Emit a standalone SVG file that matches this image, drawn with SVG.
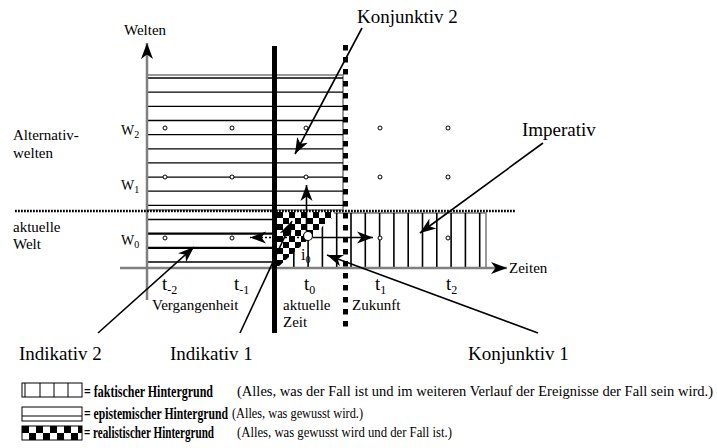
<svg xmlns="http://www.w3.org/2000/svg" width="717" height="448" viewBox="0 0 717 448" font-family="'Liberation Serif', 'Times New Roman', 'DejaVu Serif', serif">
<style>
text{font-family:'Liberation Serif','Times New Roman','DejaVu Serif',serif;fill:#000}
.lbl{font-size:15px}
.big{font-size:19px}
.w{font-size:14px}
.sub{font-size:10px}
.tsub{font-size:12px}
.t{font-size:19px}
.bold{font-size:12.5px;font-weight:bold}
.desc{font-size:13px}
.hl{stroke:#000;stroke-width:1.3}
.hlt{stroke:#000;stroke-width:2.2}
.vl{stroke:#000;stroke-width:1.6}
.gray{stroke:#808080;stroke-width:1.6;fill:none}
.axis{stroke:#808080;stroke-width:2.5;fill:none}
.arr{stroke:#000;stroke-width:1.6;fill:none;marker-end:url(#ah)}
.dot{fill:#fff;stroke:#000;stroke-width:1}
</style>
<defs>
<marker id="ah" markerUnits="userSpaceOnUse" markerWidth="17" markerHeight="13" viewBox="0 0 17 13" refX="16" refY="6.5" orient="auto">
<path d="M0,0.5 L16,6.5 L0,12.5 L4.5,6.5 z" fill="#000"/>
</marker>
<pattern id="chk" patternUnits="userSpaceOnUse" x="277" y="212" width="12" height="12">
<rect width="12" height="12" fill="#fff"/>
<rect width="6" height="6" fill="#000"/>
<rect x="6" y="6" width="6" height="6" fill="#000"/>
</pattern>
<pattern id="chkL" patternUnits="userSpaceOnUse" x="22" y="426" width="14" height="14">
<rect width="14" height="14" fill="#fff"/>
<rect width="7" height="7" fill="#000"/>
<rect x="7" y="7" width="7" height="7" fill="#000"/>
</pattern>
<clipPath id="realClip"><polygon points="277,212 334,212 334,216 277,268"/></clipPath>
</defs>

<g id="epistemic-background">
<rect x="147" y="75" width="196" height="135" fill="#fff" class="gray"/>
<line class="hl" x1="148" y1="78" x2="343" y2="78"/>
<line class="hl" x1="148" y1="92.2" x2="343" y2="92.2"/>
<line class="hl" x1="148" y1="106.3" x2="343" y2="106.3"/>
<line class="hl" x1="148" y1="120.5" x2="343" y2="120.5"/>
<line class="hl" x1="148" y1="134.6" x2="343" y2="134.6"/>
<line class="hl" x1="148" y1="148.8" x2="343" y2="148.8"/>
<line class="hl" x1="148" y1="162.9" x2="343" y2="162.9"/>
<line class="hl" x1="148" y1="177.1" x2="343" y2="177.1"/>
<line class="hl" x1="148" y1="191.2" x2="343" y2="191.2"/>
<line class="hl" x1="148" y1="205.4" x2="343" y2="205.4"/>
<line class="hl" x1="148" y1="219.5" x2="273" y2="219.5"/>
<line class="hlt" x1="148" y1="233.7" x2="273" y2="233.7"/>
<line class="hlt" x1="148" y1="247.8" x2="273" y2="247.8"/>
<line class="hl" x1="148" y1="262" x2="273" y2="262"/>
</g>

<g id="factual-background">
<rect x="277" y="213" width="209" height="55" fill="#fff" class="gray"/>
<line class="vl" x1="293.8" y1="213" x2="293.8" y2="268"/>
<line class="vl" x1="308.1" y1="213" x2="308.1" y2="268"/>
<line class="vl" x1="322.4" y1="213" x2="322.4" y2="268"/>
<line class="vl" x1="336.7" y1="213" x2="336.7" y2="268"/>
<line class="vl" x1="351" y1="213" x2="351" y2="268"/>
<line class="vl" x1="365.3" y1="213" x2="365.3" y2="268"/>
<line class="vl" x1="379.6" y1="213" x2="379.6" y2="268"/>
<line class="vl" x1="393.9" y1="213" x2="393.9" y2="268"/>
<line class="vl" x1="408.2" y1="213" x2="408.2" y2="268"/>
<line class="vl" x1="422.5" y1="213" x2="422.5" y2="268"/>
<line class="vl" x1="436.8" y1="213" x2="436.8" y2="268"/>
<line class="vl" x1="451.1" y1="213" x2="451.1" y2="268"/>
<line class="vl" x1="465.4" y1="213" x2="465.4" y2="268"/>
<line class="vl" x1="479.7" y1="213" x2="479.7" y2="268"/>
</g>

<g id="realistic-background">
<rect x="277" y="212" width="60" height="56" fill="url(#chk)" clip-path="url(#realClip)"/>
</g>

<g id="axes">
<line class="axis" x1="147" y1="300" x2="147" y2="43" marker-end="url(#ah)"/>
<line class="axis" x1="120" y1="268" x2="507" y2="268" marker-end="url(#ah)"/>
<text class="lbl" x="124" y="35">Welten</text>
<text class="lbl" x="509" y="273">Zeiten</text>
</g>

<g id="boundaries">
<line x1="15" y1="211" x2="515" y2="211" stroke="#000" stroke-width="2.5" stroke-dasharray="1.8 1.2"/>
<line x1="274.5" y1="46" x2="274.5" y2="333" stroke="#000" stroke-width="5"/>
<line x1="345.5" y1="45" x2="345.5" y2="333" stroke="#000" stroke-width="5" stroke-dasharray="5.5 6.5"/>
</g>

<g id="world-points">
<circle class="dot" cx="165" cy="128" r="2"/>
<circle class="dot" cx="232" cy="128" r="2"/>
<circle class="dot" cx="306" cy="128" r="2"/>
<circle class="dot" cx="380" cy="128" r="2"/>
<circle class="dot" cx="448" cy="128" r="2"/>
<circle class="dot" cx="165" cy="177" r="2"/>
<circle class="dot" cx="232" cy="177" r="2"/>
<circle class="dot" cx="306" cy="177" r="2"/>
<circle class="dot" cx="380" cy="177" r="2"/>
<circle class="dot" cx="448" cy="177" r="2"/>
<circle class="dot" cx="165" cy="238" r="2"/>
<circle class="dot" cx="232" cy="238" r="2"/>
<circle class="dot" cx="380" cy="238" r="2"/>
<circle class="dot" cx="448" cy="238" r="2"/>
</g>

<g id="connectors">
<line class="arr" x1="306.5" y1="231" x2="306.5" y2="185"/>
<line class="arr" x1="313" y1="237.5" x2="373" y2="237.5"/>
<line class="arr" x1="303" y1="237.5" x2="250" y2="237.5" stroke-dasharray="2 2"/>
<line class="arr" x1="362" y1="28" x2="295" y2="154"/>
<line class="arr" x1="543" y1="143" x2="420" y2="233"/>
<line class="arr" x1="98" y1="333" x2="194" y2="247"/>
<line class="arr" x1="240" y1="333" x2="292" y2="221"/>
<line class="arr" x1="538" y1="333" x2="327" y2="255"/>
</g>

<g id="now-point">
<circle cx="308" cy="236" r="4.5" fill="#fff" stroke="#000" stroke-width="1.2"/>
<text x="301" y="260" style="font-size:16px">i<tspan class="sub" dy="3">0</tspan></text>
</g>

<g id="world-labels">
<text class="lbl" x="13" y="140">Alternativ-</text>
<text class="lbl" x="13" y="158">welten</text>
<text class="lbl" x="13" y="232">aktuelle</text>
<text class="lbl" x="13" y="249">Welt</text>
<text class="w" x="121" y="135">W<tspan class="sub" dy="3">2</tspan></text>
<text class="w" x="121" y="190">W<tspan class="sub" dy="3">1</tspan></text>
<text class="w" x="121" y="245">W<tspan class="sub" dy="3">0</tspan></text>
</g>

<g id="time-labels">
<text class="t" x="162" y="290">t<tspan class="tsub" dy="4">-2</tspan></text>
<text class="t" x="234" y="290">t<tspan class="tsub" dy="4">-1</tspan></text>
<text class="t" x="304" y="290">t<tspan class="tsub" dy="4">0</tspan></text>
<text class="t" x="375" y="290">t<tspan class="tsub" dy="4">1</tspan></text>
<text class="t" x="446" y="290">t<tspan class="tsub" dy="4">2</tspan></text>
<text class="lbl" x="152" y="310">Vergangenheit</text>
<text class="lbl" x="283" y="310">aktuelle</text>
<text class="lbl" x="283" y="327">Zeit</text>
<text class="lbl" x="352" y="310">Zukunft</text>
</g>

<g id="mood-labels">
<text class="big" x="357" y="23">Konjunktiv 2</text>
<text class="big" x="522" y="136">Imperativ</text>
<text class="big" x="19" y="360">Indikativ 2</text>
<text class="big" x="170" y="360">Indikativ 1</text>
<text class="big" x="468" y="360">Konjunktiv 1</text>
</g>

<g id="legend">
<rect x="22" y="383" width="60" height="14" fill="#fff" stroke="#000" stroke-width="1"/>
<line x1="25" y1="383" x2="25" y2="397" stroke="#000" stroke-width="1"/>
<line x1="40" y1="383" x2="40" y2="397" stroke="#000" stroke-width="1"/>
<line x1="54" y1="383" x2="54" y2="397" stroke="#000" stroke-width="1"/>
<line x1="68" y1="383" x2="68" y2="397" stroke="#000" stroke-width="1"/>
<rect x="22" y="407" width="60" height="14" fill="#fff" stroke="#000" stroke-width="1"/>
<line x1="22" y1="416" x2="82" y2="416" stroke="#000" stroke-width="1"/>
<rect x="22" y="426" width="60" height="14" fill="url(#chkL)" stroke="#000" stroke-width="1"/>
<text class="bold" transform="translate(84,396.5) scale(1,1.3)" textLength="129" lengthAdjust="spacingAndGlyphs">= faktischer Hintergrund</text>
<text class="bold" transform="translate(84,418.5) scale(1,1.3)" textLength="144" lengthAdjust="spacingAndGlyphs">= epistemischer Hintergrund</text>
<text class="bold" transform="translate(84,437.5) scale(1,1.3)" textLength="130" lengthAdjust="spacingAndGlyphs">= realistischer Hintergrund</text>
<text class="desc" transform="translate(237,395.5) scale(1,1.15)" textLength="476" lengthAdjust="spacingAndGlyphs">(Alles, was der Fall ist und im weiteren Verlauf der Ereignisse der Fall sein wird.)</text>
<text class="desc" transform="translate(232,417.5) scale(1,1.15)" textLength="131" lengthAdjust="spacingAndGlyphs">(Alles, was gewusst wird.)</text>
<text class="desc" transform="translate(237,436.5) scale(1,1.15)" textLength="215" lengthAdjust="spacingAndGlyphs">(Alles, was gewusst wird und der Fall ist.)</text>
</g>
</svg>
